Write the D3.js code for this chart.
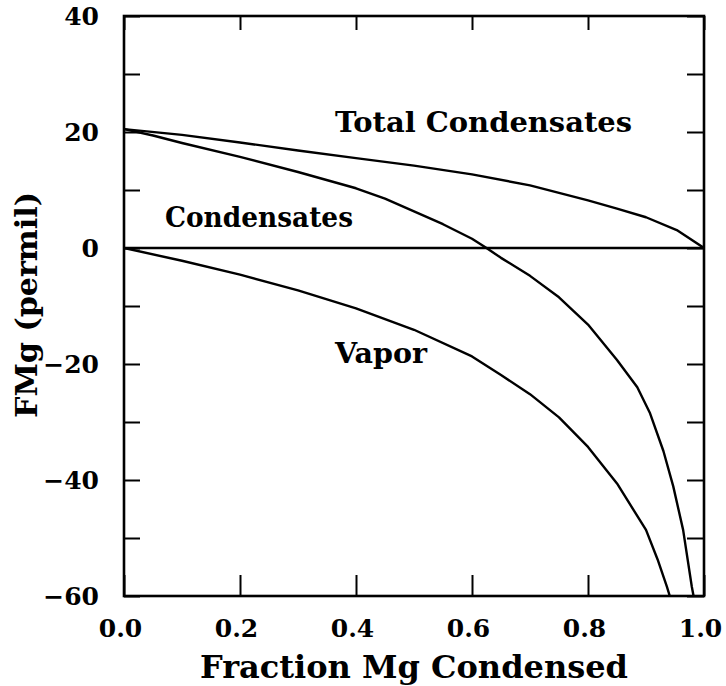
<!DOCTYPE html>
<html>
<head>
<meta charset="utf-8">
<script src="https://cdn.jsdelivr.net/npm/d3@7"></script>
<style>
  html, body { margin: 0; padding: 0; background: #fff; }
  svg { display: block; }
  text { font-family: "DejaVu Serif", "Liberation Serif", serif; font-weight: bold; fill: #000; }
</style>
</head>
<body>
<svg id="chart" width="726" height="686"></svg>
<script>
// Fraction of Mg condensed (x) for each curve
const vaporF = [0, 0.1, 0.2, 0.3, 0.4, 0.5, 0.6, 0.65, 0.7, 0.75, 0.8, 0.85, 0.9, 0.92, 0.936, 0.941];
// FMg of the remaining vapor (permil)
const vaporFMg = [0, -2.2, -4.6, -7.3, -10.4, -14.1, -18.7, -21.9, -25.2, -29.2, -34.3, -40.6, -48.6, -53.7, -58.4, -60];

const condF = [0, 0.05, 0.1, 0.2, 0.3, 0.4, 0.45, 0.5, 0.55, 0.6, 0.625, 0.65, 0.7, 0.75, 0.8, 0.85, 0.885, 0.907, 0.93, 0.947, 0.964, 0.979, 0.982];
// FMg of the instantaneous condensates (permil)
const condFMg = [20.5, 19.4, 18.1, 15.7, 13.1, 10.3, 8.5, 6.3, 4.1, 1.6, 0, -1.7, -4.8, -8.5, -13.2, -19.3, -24.0, -28.5, -35.0, -41.1, -48.6, -58.4, -60];

const totalF = [0, 0.1, 0.2, 0.3, 0.4, 0.5, 0.6, 0.7, 0.8, 0.85, 0.9, 0.953, 1.0];
// FMg of the accumulated (total) condensates (permil)
const totalFMg = [20.5, 19.5, 18.2, 16.8, 15.5, 14.2, 12.7, 10.8, 8.2, 6.8, 5.3, 3.1, 0];

const xTicks = [0, 0.2, 0.4, 0.6, 0.8, 1.0];
const yTicks = [-60, -50, -40, -30, -20, -10, 0, 10, 20, 30, 40];

const curveLabels = ["Total Condensates", "Condensates", "Vapor"];
const xTitle = "Fraction Mg Condensed";
const yTitle = "FMg (permil)";

const svg = d3.select("#chart");
const plotL = 124, plotR = 704, plotT = 16, plotB = 596;

const x = d3.scaleLinear().domain([0, 1]).range([plotL, plotR]);
const y = d3.scaleLinear().domain([-60, 40]).range([plotB, plotT]);

svg.append("rect").attr("width", 726).attr("height", 686).attr("fill", "#fff");

svg.append("defs").append("clipPath").attr("id", "plot")
  .append("rect").attr("x", plotL).attr("y", plotT)
  .attr("width", plotR - plotL).attr("height", plotB - plotT);

const minus = v => (v < 0 ? "\u2212" + Math.abs(v) : String(v));

// Left axis: inward ticks every 10, labels every 20
const gl = svg.append("g").attr("transform", `translate(${plotL},0)`)
  .call(d3.axisLeft(y).tickValues(yTicks).tickSizeInner(-16).tickSizeOuter(0)
    .tickPadding(25).tickFormat(d => (d % 20 === 0 ? minus(d) : "")));
// Right axis: ticks only
const gr = svg.append("g").attr("transform", `translate(${plotR},0)`)
  .call(d3.axisRight(y).tickValues(yTicks).tickSizeInner(-17).tickSizeOuter(0).tickFormat(""));
// Bottom axis with labels
const gb = svg.append("g").attr("transform", `translate(0,${plotB})`)
  .call(d3.axisBottom(x).tickValues(xTicks).tickSizeInner(-21).tickSizeOuter(0)
    .tickPadding(23).tickFormat(d3.format(".1f")));
// Top axis: ticks only
const gt = svg.append("g").attr("transform", `translate(0,${plotT})`)
  .call(d3.axisTop(x).tickValues(xTicks).tickSizeInner(-14).tickSizeOuter(0).tickFormat(""));

[gl, gr, gb, gt].forEach(g => {
  g.select(".domain").remove();
  g.selectAll(".tick line").attr("stroke", "#000").attr("stroke-width", 2);
  g.selectAll(".tick text").attr("font-size", 25).attr("font-family", null);
});
gb.selectAll(".tick text").attr("dx", "-4");

// Plot frame
svg.append("rect")
  .attr("x", plotL).attr("y", plotT)
  .attr("width", plotR - plotL).attr("height", plotB - plotT)
  .attr("fill", "none").attr("stroke", "#000").attr("stroke-width", 2.6);

// Zero line
svg.append("line")
  .attr("x1", x(0)).attr("x2", x(1)).attr("y1", y(0)).attr("y2", y(0))
  .attr("stroke", "#000").attr("stroke-width", 2.4);

const line = d3.line().x(d => x(d[0])).y(d => y(d[1])).curve(d3.curveLinear);
const series = [
  d3.zip(totalF, totalFMg),
  d3.zip(condF, condFMg),
  d3.zip(vaporF, vaporFMg)
];
svg.append("g").attr("clip-path", "url(#plot)")
  .selectAll("path").data(series).join("path")
  .attr("d", line)
  .attr("fill", "none").attr("stroke", "#000")
  .attr("stroke-width", 2.4).attr("stroke-linejoin", "round");

// Curve labels
const labelPos = [
  { x: 335, y: 132, w: 297 },
  { x: 165, y: 227, w: 188 },
  { x: 335, y: 363, w: 92 }
];
svg.append("g").selectAll("text").data(curveLabels).join("text")
  .attr("x", (d, i) => labelPos[i].x)
  .attr("y", (d, i) => labelPos[i].y)
  .attr("font-size", 27)
  .attr("textLength", (d, i) => labelPos[i].w)
  .attr("lengthAdjust", "spacingAndGlyphs")
  .text(d => d);

// Axis titles
svg.append("text")
  .attr("x", 200).attr("y", 678)
  .attr("font-size", 31)
  .attr("textLength", 428).attr("lengthAdjust", "spacingAndGlyphs")
  .text(xTitle);

svg.append("text")
  .attr("transform", "translate(37,418) rotate(-90)")
  .attr("font-size", 30)
  .attr("textLength", 226).attr("lengthAdjust", "spacingAndGlyphs")
  .text(yTitle);
</script>
</body>
</html>
